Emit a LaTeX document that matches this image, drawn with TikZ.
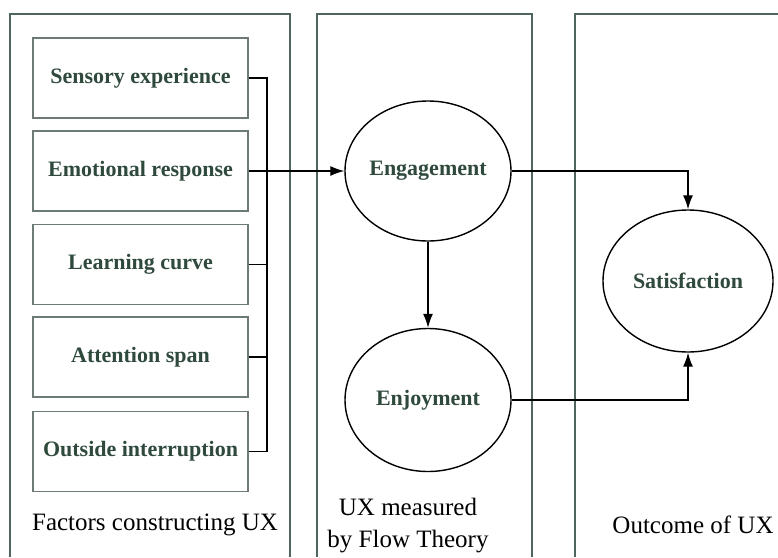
\documentclass[tikz,border=0pt]{standalone}
\usepackage{fontspec}
\setmainfont{Liberation Serif}
\usetikzlibrary{arrows.meta,shapes.geometric}
\definecolor{labelgreen}{HTML}{2F4A3C}
\definecolor{panelline}{HTML}{4E665C}
\definecolor{boxline}{HTML}{6E7A75}
\begin{document}
\begin{tikzpicture}[x=1pt, y=-1pt,
  factor/.style={draw=boxline, line width=1.2pt, rectangle, minimum width=215pt, minimum height=80pt,
    inner sep=0pt, text=labelgreen, font=\fontsize{22}{26}\selectfont\bfseries},
  construct/.style={draw=black, line width=1.4pt, ellipse, inner sep=0pt,
    text=labelgreen, font=\fontsize{22}{26}\selectfont\bfseries},
  caption/.style={font=\fontsize{25}{32}\selectfont, align=center},
  arr/.style={-{Latex[length=14pt,width=10pt]}, line width=1.3pt}]
  \useasboundingbox (0,0) rectangle (778,557);

  % Panels
  \draw[panelline, line width=1.3pt] (10,557) |- (290,14) -- (290,557);
  \draw[panelline, line width=1.3pt] (317,557) |- (532,14) -- (532,557);
  \draw[panelline, line width=1.3pt] (575,557) |- (780,14);

  % Factors constructing UX
  \node[factor] (sensory) at (140.5,78) {Sensory experience};
  \node[factor] (emotion) at (140.5,171) {Emotional response};
  \node[factor] (learning) at (140.5,264.5) {Learning curve};
  \node[factor] (attention) at (140.5,357) {Attention span};
  \node[factor] (outside) at (140.5,451.5) {Outside interruption};

  % Flow theory
  \node[construct, minimum width=166pt, minimum height=140pt] (engage) at (428,171) {Engagement};
  \node[construct, minimum width=166pt, minimum height=143pt] (enjoy) at (428,400) {Enjoyment};

  % Outcome
  \node[construct, minimum width=170pt, minimum height=142pt] (satisf) at (688,281) {Satisfaction};

  % Bus joining the factors
  \coordinate (bustop) at (267,78);
  \coordinate (busbot) at (267,451.5);
  \draw[line width=1.3pt] (sensory.east) -- (bustop) -- (busbot) -- (outside.east);
  \draw[line width=1.3pt] (learning.east) -- (learning.east -| bustop);
  \draw[line width=1.3pt] (attention.east) -- (attention.east -| bustop);
  \draw[arr] (emotion.east) -- (engage.west);

  % Paths between constructs
  \draw[arr] (engage.south) -- (enjoy.north);
  \draw[arr] (engage.east) -| (satisf.north);
  \draw[arr] (enjoy.east) -| (satisf.south);

  % Captions
  \node[caption] (cap1) at (155,525) {Factors constructing UX};
  \node[caption] (cap2) at (408,526) {UX measured\\by Flow Theory};
  \node[caption] (cap3) at (693,525) {Outcome of UX};
\end{tikzpicture}
\end{document}
